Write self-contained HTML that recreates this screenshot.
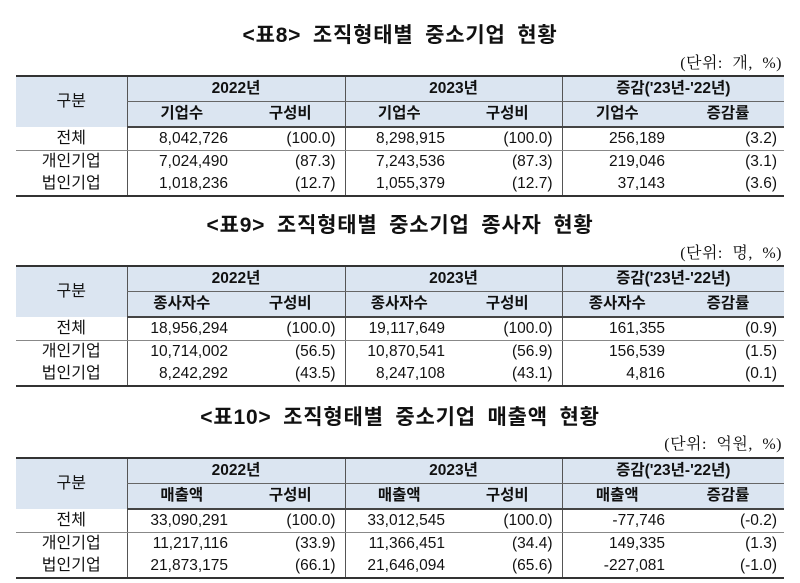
<!DOCTYPE html>
<html><head><meta charset="utf-8"><style>
body{margin:0;width:800px;height:583px;background:#fff;position:relative;overflow:hidden;font-family:"Liberation Sans","Noto Sans CJK KR",sans-serif;color:#111}
.title{position:absolute;left:0;width:800px;text-align:center;font-weight:bold;font-size:21px;letter-spacing:0.8px;word-spacing:5px}
.unit{position:absolute;right:18px;font-size:16px;word-spacing:5px;letter-spacing:0.5px;font-family:"Liberation Serif","Noto Serif CJK SC",serif}
table{position:absolute;left:16px;width:768px;border-collapse:collapse;table-layout:fixed;font-size:15.5px}
td{padding:0;height:22px;line-height:20px;white-space:nowrap}
.hd td{background:#dbe5f1;font-weight:bold;text-align:center;height:24px}
.hd td.cat{font-weight:normal;font-size:16px}
.hd1 td{border-top:2px solid #333}
.hd1 td.y{border-bottom:1px solid #666}
.hd2 td{border-bottom:2px solid #444}
.vl{border-left:1px solid #555}
.lab{text-align:center;font-size:16px}
.n{text-align:right;padding-right:8px}
.p{text-align:right;padding-right:9px}
.r1 td{border-bottom:1px solid #888;height:22px}
.r3 td{border-bottom:2px solid #333}
</style></head><body>

<div class="title" style="top:19px">&lt;표8&gt; 조직형태별 중소기업 현황</div>
<div class="unit" style="top:50px">(단위: 개, %)</div>
<table style="top:75px">
<colgroup><col style="width:111px"><col style="width:109px"><col style="width:109px"><col style="width:108px"><col style="width:109px"><col style="width:110px"><col style="width:112px"></colgroup>
<tr class="hd hd1"><td rowspan="2" class="cat">구분</td><td colspan="2" class="y vl">2022년</td><td colspan="2" class="y vl">2023년</td><td colspan="2" class="y vl">증감('23년-'22년)</td></tr>
<tr class="hd hd2"><td class="vl">기업수</td><td>구성비</td><td class="vl">기업수</td><td>구성비</td><td class="vl">기업수</td><td>증감률</td></tr>
<tr class="r1"><td class="lab">전체</td><td class="n vl">8,042,726</td><td class="p">(100.0)</td><td class="n vl">8,298,915</td><td class="p">(100.0)</td><td class="n vl" style="padding-right:7px">256,189</td><td class="p" style="padding-right:7px">(3.2)</td></tr>
<tr><td class="lab">개인기업</td><td class="n vl">7,024,490</td><td class="p">(87.3)</td><td class="n vl">7,243,536</td><td class="p">(87.3)</td><td class="n vl" style="padding-right:7px">219,046</td><td class="p" style="padding-right:7px">(3.1)</td></tr>
<tr class="r3"><td class="lab">법인기업</td><td class="n vl">1,018,236</td><td class="p">(12.7)</td><td class="n vl">1,055,379</td><td class="p">(12.7)</td><td class="n vl" style="padding-right:7px">37,143</td><td class="p" style="padding-right:7px">(3.6)</td></tr>
</table>

<div class="title" style="top:209px">&lt;표9&gt; 조직형태별 중소기업 종사자 현황</div>
<div class="unit" style="top:240px">(단위: 명, %)</div>
<table style="top:265px">
<colgroup><col style="width:111px"><col style="width:109px"><col style="width:109px"><col style="width:108px"><col style="width:109px"><col style="width:110px"><col style="width:112px"></colgroup>
<tr class="hd hd1"><td rowspan="2" class="cat">구분</td><td colspan="2" class="y vl">2022년</td><td colspan="2" class="y vl">2023년</td><td colspan="2" class="y vl">증감('23년-'22년)</td></tr>
<tr class="hd hd2"><td class="vl">종사자수</td><td>구성비</td><td class="vl">종사자수</td><td>구성비</td><td class="vl">종사자수</td><td>증감률</td></tr>
<tr class="r1"><td class="lab">전체</td><td class="n vl">18,956,294</td><td class="p">(100.0)</td><td class="n vl">19,117,649</td><td class="p">(100.0)</td><td class="n vl" style="padding-right:7px">161,355</td><td class="p" style="padding-right:7px">(0.9)</td></tr>
<tr><td class="lab">개인기업</td><td class="n vl">10,714,002</td><td class="p">(56.5)</td><td class="n vl">10,870,541</td><td class="p">(56.9)</td><td class="n vl" style="padding-right:7px">156,539</td><td class="p" style="padding-right:7px">(1.5)</td></tr>
<tr class="r3"><td class="lab">법인기업</td><td class="n vl">8,242,292</td><td class="p">(43.5)</td><td class="n vl">8,247,108</td><td class="p">(43.1)</td><td class="n vl" style="padding-right:7px">4,816</td><td class="p" style="padding-right:7px">(0.1)</td></tr>
</table>

<div class="title" style="top:401px">&lt;표10&gt; 조직형태별 중소기업 매출액 현황</div>
<div class="unit" style="top:431px">(단위: 억원, %)</div>
<table style="top:457px">
<colgroup><col style="width:111px"><col style="width:109px"><col style="width:109px"><col style="width:108px"><col style="width:109px"><col style="width:110px"><col style="width:112px"></colgroup>
<tr class="hd hd1"><td rowspan="2" class="cat">구분</td><td colspan="2" class="y vl">2022년</td><td colspan="2" class="y vl">2023년</td><td colspan="2" class="y vl">증감('23년-'22년)</td></tr>
<tr class="hd hd2"><td class="vl">매출액</td><td>구성비</td><td class="vl">매출액</td><td>구성비</td><td class="vl">매출액</td><td>증감률</td></tr>
<tr class="r1"><td class="lab">전체</td><td class="n vl">33,090,291</td><td class="p">(100.0)</td><td class="n vl">33,012,545</td><td class="p">(100.0)</td><td class="n vl" style="padding-right:7px">-77,746</td><td class="p" style="padding-right:7px">(-0.2)</td></tr>
<tr><td class="lab">개인기업</td><td class="n vl">11,217,116</td><td class="p">(33.9)</td><td class="n vl">11,366,451</td><td class="p">(34.4)</td><td class="n vl" style="padding-right:7px">149,335</td><td class="p" style="padding-right:7px">(1.3)</td></tr>
<tr class="r3"><td class="lab">법인기업</td><td class="n vl">21,873,175</td><td class="p">(66.1)</td><td class="n vl">21,646,094</td><td class="p">(65.6)</td><td class="n vl" style="padding-right:7px">-227,081</td><td class="p" style="padding-right:7px">(-1.0)</td></tr>
</table>
</body></html>
